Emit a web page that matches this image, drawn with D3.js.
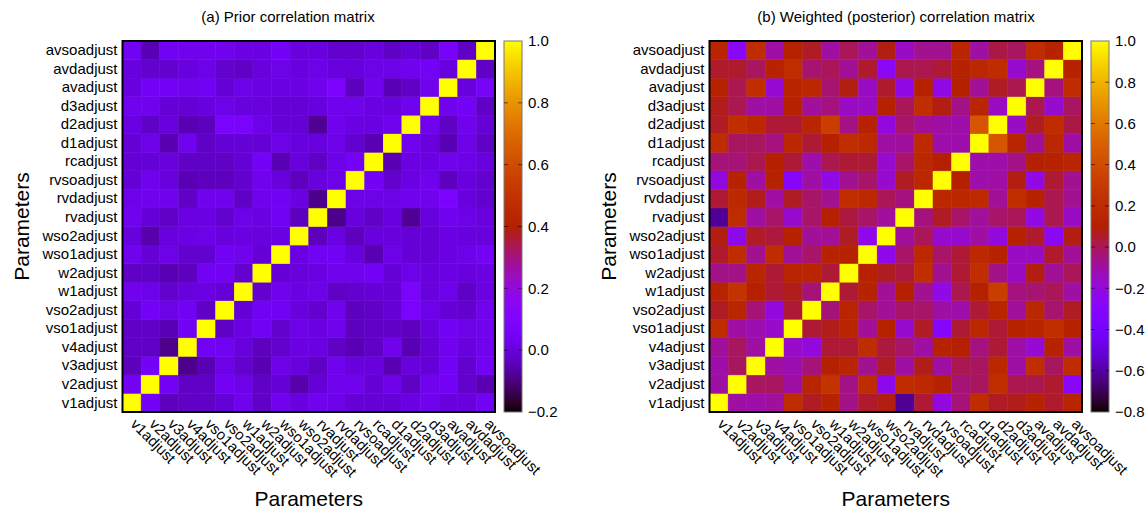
<!DOCTYPE html>
<html>
<head>
<meta charset="utf-8">
<script src="https://cdn.jsdelivr.net/npm/d3@7"></script>
<style>
  body { margin: 0; background: #fff; }
  text { font-family: "Liberation Sans", Arial, Helvetica, sans-serif; fill: #000; }
</style>
</head>
<body>
<svg id="chart" width="1148" height="513"></svg>
<script>
// Parameter names, in matrix order (v1adjust is the first row/column)
const params = [
  "v1adjust", "v2adjust", "v3adjust", "v4adjust", "vso1adjust", "vso2adjust",
  "w1adjust", "w2adjust", "wso1adjust", "wso2adjust", "rvadjust", "rvdadjust",
  "rvsoadjust", "rcadjust", "d1adjust", "d2adjust", "d3adjust", "avadjust",
  "avdadjust", "avsoadjust"
];

// Lower triangle of the prior correlation matrix: row i holds corr(i, 0..i-1)
const priorLower = [
  [],
  [0.05],
  [-0.04, 0.05],
  [-0.03, -0.03, -0.09],
  [-0.03, -0.03, -0.05, 0.04],
  [-0.01, 0.05, 0.02, 0.04, -0.03],
  [0.03, 0.02, -0.02, 0.00, 0.01, -0.01],
  [-0.03, -0.03, -0.05, -0.04, 0.04, 0.04, -0.02],
  [0.03, -0.01, 0.02, -0.02, -0.02, 0.04, 0.03, -0.01],
  [0.00, -0.06, 0.00, 0.01, 0.02, 0.00, 0.01, 0.00, 0.01],
  [0.03, -0.01, -0.03, 0.01, 0.01, -0.02, 0.02, 0.01, 0.04, -0.04],
  [0.02, 0.03, 0.03, -0.03, 0.03, 0.03, -0.03, 0.03, 0.04, 0.01, -0.09],
  [-0.01, 0.03, 0.00, -0.05, -0.04, -0.04, -0.02, 0.03, 0.00, -0.04, 0.00, 0.02],
  [-0.01, -0.01, 0.00, -0.03, -0.03, -0.03, -0.01, 0.05, -0.05, 0.00, -0.03, 0.02, 0.05],
  [-0.01, 0.02, -0.05, 0.03, -0.03, -0.01, -0.01, -0.01, 0.02, 0.00, 0.00, 0.02, -0.02, -0.05],
  [0.01, -0.03, 0.00, -0.05, -0.04, 0.07, 0.07, 0.02, -0.01, -0.01, -0.08, 0.03, 0.01, 0.01, 0.03],
  [0.03, 0.03, -0.01, -0.01, 0.00, 0.02, 0.00, 0.00, -0.01, -0.01, 0.00, 0.03, 0.03, 0.01, 0.00, 0.03],
  [0.00, 0.05, 0.05, 0.03, 0.04, -0.01, 0.02, 0.01, 0.01, 0.01, 0.03, 0.08, -0.04, 0.03, -0.05, -0.03, 0.03],
  [0.00, -0.02, -0.02, 0.00, 0.02, -0.02, -0.03, 0.00, 0.02, 0.00, 0.02, 0.00, 0.00, 0.02, 0.02, 0.03, 0.05, 0.00],
  [0.04, -0.05, 0.04, 0.03, 0.03, 0.03, 0.01, 0.01, 0.05, 0.00, 0.00, -0.02, -0.02, 0.00, -0.03, -0.01, -0.03, 0.06, -0.03]
];

// Lower triangle of the weighted (posterior) correlation matrix
const posteriorLower = [
  [],
  [-0.10],
  [-0.11, -0.01],
  [-0.09, -0.01, -0.10],
  [0.20, -0.10, -0.12, -0.16],
  [0.06, 0.15, -0.04, -0.20, 0.04],
  [0.13, 0.25, 0.11, 0.04, 0.07, -0.04],
  [-0.06, -0.06, 0.15, 0.04, 0.15, 0.15, 0.04],
  [0.05, 0.20, -0.07, 0.20, -0.08, -0.02, 0.13, 0.13],
  [0.08, -0.24, 0.06, 0.03, 0.12, -0.08, -0.08, 0.06, -0.23],
  [-0.62, 0.20, -0.10, -0.02, -0.17, -0.02, 0.11, 0.03, -0.02, -0.09],
  [0.04, 0.18, 0.07, -0.10, 0.06, -0.02, -0.07, 0.22, 0.18, 0.00, -0.05],
  [-0.20, 0.13, -0.10, 0.13, -0.30, -0.10, -0.22, -0.07, -0.02, -0.17, 0.06, 0.17],
  [-0.04, -0.04, 0.01, 0.10, 0.04, -0.11, 0.01, 0.04, 0.04, -0.17, -0.02, 0.17, 0.11],
  [0.20, -0.01, -0.01, -0.05, 0.17, 0.04, 0.10, 0.22, 0.18, -0.10, -0.09, 0.19, -0.11, -0.11],
  [0.06, 0.22, 0.17, 0.04, 0.04, 0.15, 0.32, -0.06, 0.13, -0.20, -0.02, -0.08, -0.10, -0.11, 0.45],
  [0.07, 0.01, -0.10, -0.10, 0.13, -0.09, -0.05, -0.15, -0.15, 0.12, 0.00, 0.22, 0.08, -0.06, 0.15, -0.15],
  [0.13, 0.01, 0.22, -0.18, 0.14, 0.16, -0.03, 0.08, -0.15, 0.05, -0.22, 0.12, -0.22, 0.10, -0.08, 0.06, 0.01],
  [0.05, 0.05, -0.01, 0.13, 0.22, -0.03, 0.00, -0.08, 0.05, -0.26, 0.01, 0.01, 0.04, 0.12, 0.16, 0.20, -0.17, -0.05],
  [0.15, -0.28, 0.20, -0.10, 0.12, 0.06, -0.10, 0.00, -0.08, 0.08, -0.15, -0.07, -0.07, 0.15, -0.10, 0.02, -0.01, 0.20, 0.13]
];

// Colour-bar ranges and tick labels
const priorRange = [-0.2, 1.0];
const priorTicks = [-0.2, 0.0, 0.2, 0.4, 0.6, 0.8, 1.0];
const posteriorRange = [-0.8, 1.0];
const posteriorTicks = [-0.8, -0.6, -0.4, -0.2, 0.0, 0.2, 0.4, 0.6, 0.8, 1.0];

const titles = ["(a) Prior correlation matrix", "(b) Weighted (posterior) correlation matrix"];
const axisTitle = "Parameters";

// Expand a lower triangle into a full symmetric matrix as a flat cell list
function cellsFrom(lower) {
  const cells = [];
  params.forEach((pi, i) => {
    params.forEach((pj, j) => {
      let v;
      if (i === j) v = 1.0;
      else if (j < i) v = lower[i][j];
      else v = lower[j][i];
      cells.push({ row: pi, col: pj, value: v });
    });
  });
  return cells;
}

// gnuplot default palette (rgbformulae 7,5,15)
function gnuplotPalette(t) {
  t = Math.max(0, Math.min(1, t));
  const r = Math.sqrt(t);
  const g = t * t * t;
  const b = Math.max(0, Math.sin(2 * Math.PI * t));
  return d3.rgb(Math.round(r * 255), Math.round(g * 255), Math.round(b * 255)).toString();
}

const svg = d3.select("#chart");
const defs = svg.append("defs");

const panels = [
  { x0: 122.5, cbX: 504, titleX: 288, lower: priorLower, range: priorRange, ticks: priorTicks, title: titles[0], id: "a" },
  { x0: 709.5, cbX: 1091, titleX: 896, lower: posteriorLower, range: posteriorRange, ticks: posteriorTicks, title: titles[1], id: "b" }
];

const plotW = 372.5, plotTop = 41, plotBottom = 412, cbW = 18;

panels.forEach(p => {
  const g = svg.append("g");
  const x = d3.scaleBand().domain(params).range([p.x0, p.x0 + plotW]);
  const y = d3.scaleBand().domain(params).range([plotBottom, plotTop]);
  const color = d3.scaleSequential(gnuplotPalette).domain(p.range);

  // matrix cells
  g.append("g").selectAll("rect")
    .data(cellsFrom(p.lower))
    .join("rect")
    .attr("x", d => x(d.col))
    .attr("y", d => y(d.row))
    .attr("width", x.bandwidth())
    .attr("height", y.bandwidth())
    .attr("fill", d => color(d.value))
    .attr("stroke", d => color(d.value))
    .attr("stroke-width", 0.5);

  // plot frame
  g.append("rect")
    .attr("x", p.x0).attr("y", plotTop)
    .attr("width", plotW).attr("height", plotBottom - plotTop)
    .attr("fill", "none").attr("stroke", "#000").attr("stroke-width", 2);

  // y axis labels
  const yAxis = g.append("g")
    .attr("transform", `translate(${p.x0},0)`)
    .call(d3.axisLeft(y).tickSize(0).tickPadding(5));
  yAxis.select(".domain").remove();
  yAxis.selectAll("text")
    .style("font-size", "15px")
    .style("font-family", "'Liberation Sans', Arial, sans-serif")
    .attr("fill", "#000");

  // x axis labels, rotated
  const xAxis = g.append("g")
    .attr("transform", `translate(0,${plotBottom})`)
    .call(d3.axisBottom(x).tickSize(0));
  xAxis.select(".domain").remove();
  xAxis.selectAll("text")
    .style("font-size", "15px")
    .style("font-family", "'Liberation Sans', Arial, sans-serif")
    .attr("fill", "#000")
    .attr("text-anchor", "start")
    .attr("x", 0).attr("y", 0).attr("dy", 0)
    .attr("transform", "translate(-2,13) rotate(45)");

  // panel title
  g.append("text")
    .attr("x", p.titleX).attr("y", 22)
    .attr("text-anchor", "middle")
    .style("font-size", "15px")
    .text(p.title);

  // axis titles
  const cx = p.x0 + plotW / 2;
  g.append("text")
    .attr("x", cx).attr("y", 506)
    .attr("text-anchor", "middle")
    .style("font-size", "21px")
    .text(axisTitle);
  g.append("text")
    .attr("transform", `translate(${p.x0 - 94},${(plotTop + plotBottom) / 2}) rotate(-90)`)
    .attr("text-anchor", "middle")
    .style("font-size", "21px")
    .text(axisTitle);

  // colour bar
  const grad = defs.append("linearGradient")
    .attr("id", "cb-" + p.id)
    .attr("x1", 0).attr("y1", 1).attr("x2", 0).attr("y2", 0);
  d3.range(0, 129).forEach(k => {
    const t = k / 128;
    grad.append("stop").attr("offset", t).attr("stop-color", gnuplotPalette(t));
  });
  const cbScale = d3.scaleLinear().domain(p.range).range([plotBottom, plotTop]);
  g.append("rect")
    .attr("x", p.cbX).attr("y", plotTop)
    .attr("width", cbW).attr("height", plotBottom - plotTop)
    .attr("fill", `url(#cb-${p.id})`)
    .attr("stroke", "#777").attr("stroke-width", 1);

  // inner tick marks on both sides of the colour bar
  const inner = p.ticks.filter(t => t > p.range[0] && t < p.range[1]);
  g.append("g").selectAll("line")
    .data(inner).join("line")
    .attr("x1", p.cbX).attr("x2", p.cbX + 4)
    .attr("y1", d => cbScale(d)).attr("y2", d => cbScale(d))
    .attr("stroke", "#000").attr("stroke-opacity", 0.55).attr("stroke-width", 1);
  g.append("g").selectAll("line")
    .data(inner).join("line")
    .attr("x1", p.cbX + cbW - 4).attr("x2", p.cbX + cbW)
    .attr("y1", d => cbScale(d)).attr("y2", d => cbScale(d))
    .attr("stroke", "#000").attr("stroke-opacity", 0.55).attr("stroke-width", 1);

  const cbAxis = g.append("g")
    .attr("transform", `translate(${p.cbX + cbW},0)`)
    .call(d3.axisRight(cbScale).tickValues(p.ticks).tickSize(0).tickPadding(6).tickFormat(d3.format(".1f")));
  cbAxis.select(".domain").remove();
  cbAxis.selectAll("text")
    .style("font-size", "15px")
    .style("font-family", "'Liberation Sans', Arial, sans-serif")
    .attr("fill", "#000");
});
</script>
</body>
</html>
